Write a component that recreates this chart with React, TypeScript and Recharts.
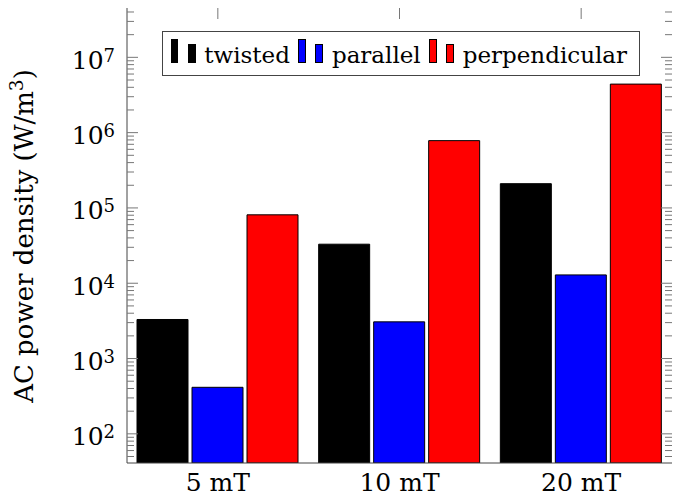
import React from 'react';
import { BarChart, Bar, XAxis, YAxis, ReferenceArea } from 'recharts';

const categories = ['5 mT', '10 mT', '20 mT'];
const twisted = [3300, 33000, 210000];
const parallel = [415, 3070, 12900];
const perpendicular = [81000, 783000, 4410000];

const seriesNames = ['twisted', 'parallel', 'perpendicular'];
const seriesColors = ['#000000', '#0000ff', '#ff0000'];
const seriesValues = [twisted, parallel, perpendicular];

const yMajorTicks = [1e2, 1e3, 1e4, 1e5, 1e6, 1e7];
const yDomain: [number, number] = [41, 4.52e7];

const yMinorTicks: number[] = [];
for (let d = 10; d <= 1e7; d *= 10) {
  for (let m = 2; m <= 9; m++) {
    const v = m * d;
    if (v >= yDomain[0] && v <= yDomain[1]) yMinorTicks.push(v);
  }
}
const yTicks = [...yMajorTicks, ...yMinorTicks].sort((a, b) => a - b);

const data = categories.map((cat, i) => {
  const row: Record<string, any> = { cat };
  seriesNames.forEach((n, s) => {
    row[n] = seriesValues[s][i];
  });
  return row;
});

const W = 678;
const H = 496;
const M = { top: 8, right: 6, left: 0, bottom: 0 };
const Y_AXIS_W = 127;
const X_AXIS_H = 33;
const PLOT_LEFT = M.left + Y_AXIS_W;
const PLOT_RIGHT = W - M.right;
const PLOT_TOP = M.top;
const FONT = "'DejaVu Serif', serif";
const FS = 25;
const LEGEND_FS = 23;
const TICK_COLOR = '#777';
const FRAME_COLOR = '#444';

function YTick(props: any) {
  const { y, payload } = props;
  const v = payload.value as number;
  const e = Math.round(Math.log10(v));
  const major = Math.abs(v - Math.pow(10, e)) < 1e-6 * v;
  const len = major ? 11 : 7;
  return (
    <g>
      <line x1={PLOT_LEFT} x2={PLOT_LEFT + len} y1={y} y2={y} stroke={TICK_COLOR} strokeWidth={1} />
      <line x1={PLOT_RIGHT - len} x2={PLOT_RIGHT} y1={y} y2={y} stroke={TICK_COLOR} strokeWidth={1} />
      {major && (
        <text x={PLOT_LEFT - 12} y={y + 11.5} textAnchor="end" style={{ fontFamily: FONT }} fontSize={FS} fill="#000">
          <tspan>10</tspan>
          <tspan dy={-7} fontSize={18}>{e}</tspan>
        </text>
      )}
    </g>
  );
}

function XTick(props: any) {
  const { x, y, payload } = props;
  return (
    <g>
      <line x1={x} x2={x} y1={PLOT_TOP} y2={PLOT_TOP + 11} stroke={TICK_COLOR} strokeWidth={1} />
      <text x={x} y={y + 28} textAnchor="middle" style={{ fontFamily: FONT }} fontSize={FS} fill="#000">
        {payload.value}
      </text>
    </g>
  );
}

function YLabel() {
  const cx = 33;
  const cy = 236;
  return (
    <text
      x={cx}
      y={cy}
      transform={`rotate(-90, ${cx}, ${cy})`}
      textAnchor="middle"
      style={{ fontFamily: FONT }}
      fontSize={26}
      fill="#000"
    >
      <tspan>AC power density (W/m</tspan>
      <tspan dy={-10} fontSize={18.5}>3</tspan>
      <tspan dy={10}>)</tspan>
    </text>
  );
}

function LegendBox() {
  return (
    <div
      style={{
        position: 'absolute',
        left: 161.7,
        top: 31.3,
        width: 478.3,
        height: 45,
        boxSizing: 'border-box',
        border: `1px solid ${FRAME_COLOR}`,
        background: '#fff',
        display: 'flex',
        alignItems: 'baseline',
        paddingTop: 7,
        paddingLeft: 8,
        fontFamily: FONT,
        fontSize: LEGEND_FS,
        lineHeight: 1,
        color: '#000',
        overflow: 'hidden',
      }}
    >
      {seriesNames.map((n, i) => (
        <React.Fragment key={n}>
          <div
            style={{
              width: 7.6,
              height: 23.3,
              flexShrink: 0,
              background: seriesColors[i],
              border: '1px solid #000',
              boxSizing: 'border-box',
              marginLeft: i === 0 ? 0 : 8.4,
              display: 'inline-block',
            }}
          />
          <div
            style={{
              width: 8,
              height: 18.3,
              flexShrink: 0,
              background: seriesColors[i],
              border: '1px solid #000',
              boxSizing: 'border-box',
              marginLeft: 9.4,
              display: 'inline-block',
            }}
          />
          <span style={{ marginLeft: 8.6, whiteSpace: 'nowrap', flexShrink: 0 }}>{n}</span>
        </React.Fragment>
      ))}
    </div>
  );
}

export default function App() {
  return (
    <div style={{ position: 'absolute', left: 0, top: 0, width: W, height: H, background: '#fff' }}>
      <BarChart width={W} height={H} data={data} margin={M} barCategoryGap={10} barGap={4}>
        <XAxis
          dataKey="cat"
          height={X_AXIS_H}
          tickLine={false}
          tickSize={0}
          tickMargin={0}
          axisLine={{ stroke: FRAME_COLOR, strokeWidth: 1 }}
          tick={<XTick />}
          interval={0}
        />
        <YAxis
          scale="log"
          domain={yDomain}
          allowDataOverflow
          ticks={yTicks}
          interval={0}
          width={Y_AXIS_W}
          tickLine={false}
          tickSize={0}
          tickMargin={0}
          axisLine={{ stroke: FRAME_COLOR, strokeWidth: 1 }}
          tick={<YTick />}
          label={<YLabel />}
        />
        <ReferenceArea fill="none" stroke={FRAME_COLOR} strokeWidth={1} fillOpacity={0} />
        {seriesNames.map((n, i) => (
          <Bar
            key={n}
            dataKey={n}
            fill={seriesColors[i]}
            stroke="#000"
            strokeWidth={1}
            isAnimationActive={false}
          />
        ))}
      </BarChart>
      <LegendBox />
    </div>
  );
}
